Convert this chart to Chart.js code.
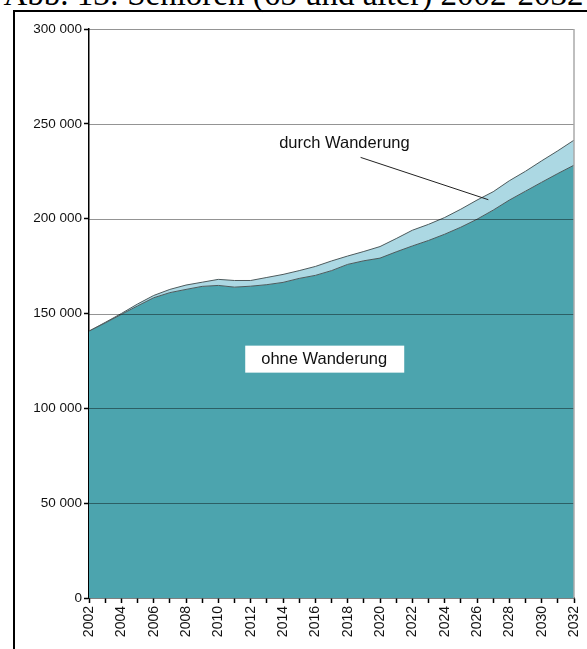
<!DOCTYPE html>
<html lang="de">
<head>
  <meta charset="UTF-8">
  <title>Senioren (65 und älter) 2002-2032</title>
  <script src="https://cdn.jsdelivr.net/npm/chart.js"></script>
  <style>
    html, body {
      margin: 0;
      padding: 0;
      background: #fff;
      overflow: hidden;
    }
    .page {
      position: relative;
      width: 587px;
      height: 649px;
    }
    .title {
      position: absolute;
      left: -10px;
      top: -22px;
      width: 607px;
      text-align: center;
      font-family: "Liberation Serif", "Times New Roman", serif;
      font-size: 33px;
      line-height: 33px;
      white-space: nowrap;
      color: #000;
    }
    .frame {
      position: absolute;
      left: 13px;
      top: 10px;
      width: 580px;
      height: 650px;
      border-left: 2px solid #000;
      border-top: 2px solid #000;
    }
    canvas {
      position: absolute;
      left: 0;
      top: 0;
    }
  </style>
</head>
<body>
<div class="page">
  <div class="title">Abb. 13: Senioren (65 und älter) 2002-2032</div>
  <div class="frame"></div>
  <canvas id="chart" width="587" height="649"></canvas>
</div>

<script>
  const years = [
    2002, 2003, 2004, 2005, 2006, 2007, 2008, 2009, 2010, 2011,
    2012, 2013, 2014, 2015, 2016, 2017, 2018, 2019, 2020, 2021,
    2022, 2023, 2024, 2025, 2026, 2027, 2028, 2029, 2030, 2031, 2032
  ];
  // Seniors without migration
  const ohneWanderung = [
    140700, 145000, 149500, 154000, 158300, 161000, 162700, 164300, 164800, 163900,
    164400, 165200, 166400, 168500, 170100, 172600, 175900, 177800, 179200, 182500,
    185600, 188500, 191800, 195500, 199700, 204500, 209800, 214500, 219200, 223800, 228200
  ];
  // Seniors including migration (upper edge)
  const mitWanderung = [
    140700, 145300, 150000, 155000, 159500, 162700, 165000, 166500, 168000, 167400,
    167400, 169000, 170600, 172600, 174800, 177700, 180300, 182700, 185300, 189500,
    193900, 197000, 200600, 205000, 209800, 214200, 220000, 225000, 230500, 235800, 241400
  ];
  const yTicks = [0, 50000, 100000, 150000, 200000, 250000, 300000];

  // label anchors in data units
  const labelOhne = { x: 2016.55, y: 126200, text: 'ohne Wanderung' };
  const labelDurch = { x: 2017.8, y: 239500, text: 'durch Wanderung' };
  const leader = { x1: 2018.8, y1: 232300, x2: 2026.7, y2: 210000 };

  const fmt = v => String(v).replace(/\B(?=(\d{3})+(?!\d))/g, ' ');
  const sans = '"Liberation Sans", Arial, sans-serif';

  const overlay = {
    id: 'overlay',
    afterDatasetsDraw(chart) {
      const { ctx, chartArea: a, scales: { x, y } } = chart;
      ctx.save();
      // horizontal grid lines over the areas
      ctx.strokeStyle = 'rgba(0,0,0,0.42)';
      ctx.lineWidth = 1;
      yTicks.forEach(v => {
        if (v === 0) return;
        const py = Math.round(y.getPixelForValue(v)) + 0.5;
        ctx.beginPath();
        ctx.moveTo(a.left, py);
        ctx.lineTo(a.right, py);
        ctx.stroke();
      });
      // right frame of plot
      ctx.strokeStyle = '#aaa';
      ctx.lineWidth = 1.5;
      ctx.beginPath();
      ctx.moveTo(a.right, a.top);
      ctx.lineTo(a.right, a.bottom);
      ctx.stroke();

      ctx.font = '16.5px ' + sans;
      ctx.textAlign = 'center';
      ctx.textBaseline = 'middle';

      // box label inside lower area
      const ox = x.getPixelForValue(labelOhne.x);
      const oy = y.getPixelForValue(labelOhne.y);
      ctx.fillStyle = '#fff';
      ctx.fillRect(ox - 79, oy - 13, 159, 27);
      ctx.fillStyle = '#111';
      ctx.fillText(labelOhne.text, ox, oy + 1);

      // migration label with leader line
      ctx.fillText(labelDurch.text, x.getPixelForValue(labelDurch.x), y.getPixelForValue(labelDurch.y));
      ctx.strokeStyle = '#222';
      ctx.lineWidth = 1;
      ctx.beginPath();
      ctx.moveTo(x.getPixelForValue(leader.x1), y.getPixelForValue(leader.y1));
      ctx.lineTo(x.getPixelForValue(leader.x2), y.getPixelForValue(leader.y2));
      ctx.stroke();
      ctx.restore();
    }
  };

  new Chart(document.getElementById('chart'), {
    type: 'line',
    data: {
      datasets: [
        {
          label: 'ohne Wanderung',
          data: years.map((yr, i) => ({ x: yr, y: ohneWanderung[i] })),
          borderColor: '#4d5a5c',
          borderWidth: 1,
          backgroundColor: '#4ca4ae',
          fill: 'origin',
          pointRadius: 0,
          tension: 0
        },
        {
          label: 'durch Wanderung',
          data: years.map((yr, i) => ({ x: yr, y: mitWanderung[i] })),
          borderColor: '#4d5a5c',
          borderWidth: 1,
          backgroundColor: '#acd8e3',
          fill: '-1',
          pointRadius: 0,
          tension: 0
        }
      ]
    },
    options: {
      responsive: false,
      animation: false,
      layout: { padding: { top: 29, right: 13, left: 0, bottom: 0 } },
      plugins: {
        legend: { display: false },
        tooltip: { enabled: false }
      },
      scales: {
        x: {
          type: 'linear',
          min: 2002,
          max: 2032,
          afterFit(scale) {
            scale.height = 51;
            scale.paddingRight = 0;
            scale.paddingLeft = 0;
          },
          afterBuildTicks(scale) { scale.ticks = years.map(v => ({ value: v })); },
          ticks: {
            autoSkip: false,
            minRotation: 90,
            maxRotation: 90,
            padding: 3,
            color: '#111',
            font: { family: sans, size: 14 },
            callback: v => (v % 2 === 0 ? String(v) : '')
          },
          grid: {
            drawOnChartArea: false,
            drawTicks: true,
            tickLength: 5,
            tickColor: '#000',
            tickWidth: 1.5
          },
          border: { color: '#000', width: 1.5 }
        },
        y: {
          min: 0,
          max: 300000,
          afterFit(scale) { scale.width = 89; },
          afterBuildTicks(scale) { scale.ticks = yTicks.map(v => ({ value: v })); },
          ticks: {
            padding: 2,
            color: '#111',
            font: { family: sans, size: 13.5 },
            callback: v => fmt(v)
          },
          grid: {
            drawOnChartArea: false,
            drawTicks: true,
            tickLength: 5,
            tickColor: '#000',
            tickWidth: 1.5
          },
          border: { color: '#000', width: 1.5 }
        }
      }
    },
    plugins: [overlay]
  });
</script>
</body>
</html>
